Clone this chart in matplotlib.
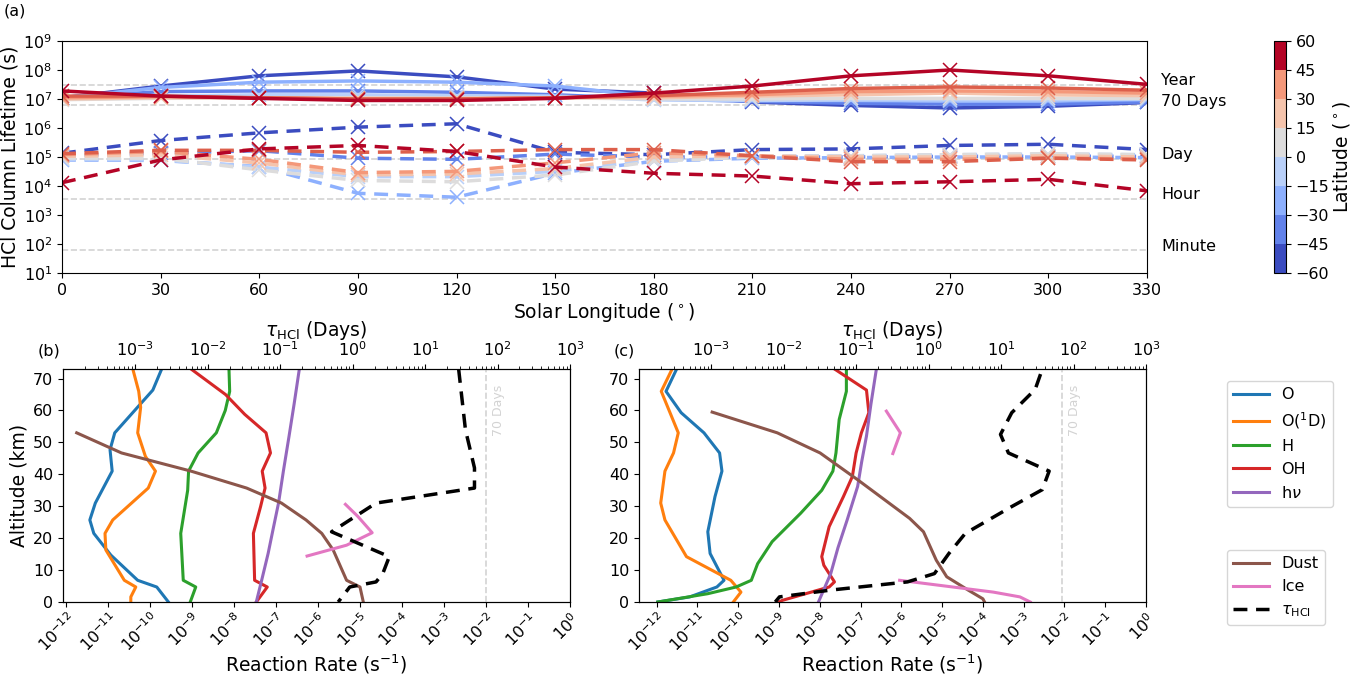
import numpy as np
import matplotlib
matplotlib.use("Agg")
import matplotlib.pyplot as plt
from matplotlib.colors import ListedColormap, BoundaryNorm
from matplotlib.cm import ScalarMappable

# ---------------- Panel (a) data ----------------
solar_longitude = [0, 30, 60, 90, 120, 150, 180, 210, 240, 270, 300, 330]
latitudes = [-60, -45, -30, -15, 0, 15, 30, 45, 60]

# solid lines (column lifetime, s)
life_solid_m60 = [1.1e7, 2.8e7, 6.3e7, 9.3e7, 5.8e7, 2.2e7, 1.6e7, 7.9e6, 6.0e6, 4.9e6, 5.6e6, 7.6e6]
life_solid_m45 = [1.1e7, 1.8e7, 1.9e7, 1.9e7, 1.7e7, 1.4e7, 1.0e7, 8.3e6, 7.1e6, 6.6e6, 6.6e6, 7.9e6]
life_solid_m30 = [1.1e7, 2.5e7, 3.8e7, 4.2e7, 3.8e7, 2.8e7, 1.2e7, 8.9e6, 8.9e6, 8.5e6, 8.5e6, 9.5e6]
life_solid_m15 = [1.0e7, 1.26e7, 1.4e7, 1.4e7, 1.3e7, 1.26e7, 9.3e6, 8.9e6, 9.3e6, 9.3e6, 9.3e6, 1.0e7]
life_solid_0 = [9.5e6, 1.05e7, 1.1e7, 1.1e7, 1.07e7, 1.1e7, 1.0e7, 1.0e7, 1.05e7, 1.05e7, 1.05e7, 1.05e7]
life_solid_p15 = [1.0e7, 1.1e7, 1.1e7, 1.05e7, 1.05e7, 1.1e7, 1.1e7, 1.26e7, 1.4e7, 1.6e7, 1.4e7, 1.3e7]
life_solid_p30 = [1.1e7, 1.2e7, 1.1e7, 1.0e7, 1.0e7, 1.1e7, 1.26e7, 1.4e7, 1.8e7, 1.9e7, 1.8e7, 1.6e7]
life_solid_p45 = [1.26e7, 1.26e7, 1.1e7, 1.0e7, 1.0e7, 1.1e7, 1.3e7, 1.7e7, 2.3e7, 2.6e7, 2.4e7, 2.0e7]
life_solid_p60 = [1.9e7, 1.26e7, 1.05e7, 8.9e6, 8.9e6, 1.05e7, 1.6e7, 2.8e7, 6.3e7, 1.0e8, 6.3e7, 3.2e7]

# dashed lines
life_dash_m60 = [1.35e5, 3.7e5, 6.8e5, 1.07e6, 1.4e6, 1.45e5, 1.2e5, 1.8e5, 1.9e5, 2.5e5, 2.75e5, 1.8e5]
life_dash_m45 = [1.1e5, 1.35e5, 1.65e5, 9.1e4, 8.3e4, 1.26e5, 1.0e5, 1.0e5, 1.0e5, 1.05e5, 1.07e5, 1.05e5]
life_dash_m30 = [7.9e4, 7.6e4, 4.7e4, 5.6e3, 4.1e3, 2.75e4, 7.1e4, 9.1e4, 9.5e4, 1.0e5, 1.0e5, 9.5e4]
life_dash_m15 = [8.3e4, 7.9e4, 4.5e4, 2.1e4, 2.1e4, 3.2e4, 7.9e4, 1.05e5, 1.1e5, 1.2e5, 1.26e5, 1.2e5]
life_dash_0 = [9.1e4, 9.1e4, 3.6e4, 1.55e4, 1.4e4, 2.4e4, 7.1e4, 1.0e5, 1.1e5, 1.2e5, 1.3e5, 1.2e5]
life_dash_p15 = [1.05e5, 1.2e5, 6.2e4, 2.4e4, 2.6e4, 4.0e4, 1.0e5, 1.1e5, 1.0e5, 1.0e5, 1.1e5, 1.0e5]
life_dash_p30 = [1.2e5, 1.55e5, 8.3e4, 2.9e4, 3.2e4, 6.3e4, 1.4e5, 1.1e5, 8.3e4, 8.3e4, 9.3e4, 8.5e4]
life_dash_p45 = [1.3e5, 1.7e5, 1.7e5, 1.45e5, 1.55e5, 1.8e5, 1.8e5, 1.1e5, 6.9e4, 6.9e4, 9.1e4, 7.9e4]
life_dash_p60 = [1.3e4, 7.9e4, 1.9e5, 2.5e5, 1.55e5, 4.5e4, 2.75e4, 2.2e4, 1.2e4, 1.4e4, 1.7e4, 6.8e3]

solid_series = [life_solid_m60, life_solid_m45, life_solid_m30, life_solid_m15, life_solid_0,
                life_solid_p15, life_solid_p30, life_solid_p45, life_solid_p60]
dash_series = [life_dash_m60, life_dash_m45, life_dash_m30, life_dash_m15, life_dash_0,
               life_dash_p15, life_dash_p30, life_dash_p45, life_dash_p60]

ref_names = ["Year", "70 Days", "Day", "Hour", "Minute"]
ref_seconds = [3.1536e7, 6.048e6, 86400, 3600, 60]

# ---------------- Panel (b) data ----------------
b_O_alt = [73, 66.4, 53, 47.7, 41, 31, 25.7, 21.5, 14.7, 6.8, 4.7, 0]
b_O_rate = [1.9e-10, 1.17e-10, 1.45e-11, 1.12e-11, 1.26e-11, 5.0e-12, 3.7e-12, 4.6e-12, 1.17e-11, 5.1e-11, 1.45e-10, 2.75e-10]
b_O1D_alt = [73, 66, 61, 53, 45.6, 41, 35.7, 25.7, 21.5, 16.3, 6.8, 4.7, 1.6, 0]
b_O1D_rate = [3.9e-11, 5.4e-11, 6.0e-11, 5.1e-11, 7.8e-11, 1.35e-10, 9.1e-11, 1.3e-11, 8.5e-12, 8.9e-12, 2.45e-11, 4.6e-11, 3.5e-11, 3.5e-11]
b_H_alt = [73, 66, 60, 53, 46.7, 41, 35, 21.5, 6.8, 4.7, 0]
b_H_rate = [7.6e-9, 7.9e-9, 6.2e-9, 3.8e-9, 1.4e-9, 8.3e-10, 7.9e-10, 5.4e-10, 6.2e-10, 1.23e-9, 9.1e-10]
b_OH_alt = [73, 65, 58.8, 53, 46.7, 41, 35.7, 29.9, 21.5, 6.8, 4.7, 0]
b_OH_rate = [9.5e-10, 6.3e-9, 1.8e-8, 5.8e-8, 7.4e-8, 4.7e-8, 5.5e-8, 4.3e-8, 2.9e-8, 3.1e-8, 6.2e-8, 3.4e-8]
b_hv_alt = [73, 62, 52, 41, 31, 23, 15.2, 7, 0]
b_hv_rate = [3.6e-7, 2.7e-7, 2.05e-7, 1.5e-7, 1.15e-7, 8.6e-8, 6.5e-8, 4.6e-8, 3.4e-8]
b_dust_alt = [53, 46.7, 41, 35.7, 31, 25.7, 21.5, 16.3, 6.8, 4.7, 0]
b_dust_rate = [1.8e-12, 2.1e-11, 9.5e-10, 2.0e-8, 1.35e-7, 5.2e-7, 1.23e-6, 2.3e-6, 4.8e-6, 1.0e-5, 1.2e-5]
b_ice_alt = [30.6, 26.8, 21.7, 17.8, 14.4]
b_ice_rate = [4.5e-6, 8.9e-6, 1.95e-5, 4.8e-6, 5.5e-7]
b_tau_alt = [73, 54, 42, 35.7, 31, 22, 14.2, 8.9, 6.3, 4.7, 0]
b_tau_days = [29, 36, 48, 48, 2.1, 0.51, 3.2, 2.6, 2.1, 0.91, 0.63]

# ---------------- Panel (c) data ----------------
c_O_alt = [73, 66, 59.3, 53, 46.7, 41, 33, 22, 15.2, 6.8, 4.7, 1.6, 0]
c_O_rate = [3.1e-12, 1.7e-12, 4.0e-12, 1.45e-11, 3.5e-11, 4.0e-11, 2.7e-11, 1.8e-11, 2.05e-11, 4.5e-11, 3.0e-11, 6.5e-12, 1.07e-12]
c_O1D_alt = [73, 66, 53, 46.7, 41, 31, 25.7, 14.2, 6.8, 3.1, 0]
c_O1D_rate = [2.4e-12, 1.3e-12, 3.4e-12, 2.6e-12, 1.6e-12, 1.26e-12, 1.6e-12, 5.4e-12, 6.6e-11, 1.17e-10, 7.6e-11]
c_H_alt = [73, 66, 57.2, 46.7, 41, 35, 27.8, 18.9, 12, 6.8, 4.7, 2.6, 0]
c_H_rate = [4.5e-8, 4.5e-8, 3.0e-8, 2.5e-8, 2.1e-8, 1.12e-8, 3.4e-9, 6.8e-10, 3.0e-10, 2.1e-10, 8.9e-11, 1.8e-11, 1.07e-12]
c_OH_alt = [73, 66.4, 59.3, 53, 46.7, 39.3, 33, 23.6, 14.2, 11.5, 6.3, 4.7, 0.5, 0]
c_OH_rate = [2.3e-8, 1.4e-7, 1.6e-7, 1.05e-7, 7.8e-8, 6.3e-8, 3.8e-8, 1.7e-8, 1.12e-8, 1.26e-8, 2.3e-8, 1.7e-8, 1.2e-9, 1.0e-9]
c_hv_alt = [73, 62, 52, 44, 36.2, 25.7, 17, 8.9, 0]
c_hv_rate = [2.45e-7, 1.8e-7, 1.4e-7, 1.07e-7, 8.5e-8, 4.7e-8, 2.8e-8, 1.86e-8, 9.3e-9]
c_dust_alt = [59.5, 53, 46.7, 38.3, 26.2, 22, 13.1, 7.9, 3.7, 1, 0]
c_dust_rate = [2.3e-11, 9.1e-10, 1.02e-8, 8.5e-8, 1.6e-6, 3.5e-6, 7.2e-6, 1.3e-5, 4.4e-5, 1.0e-4, 1.1e-4]
c_ice_up_alt = [59.8, 53, 46.5]
c_ice_up_rate = [4.3e-7, 9.5e-7, 6.2e-7]
c_ice_lo_alt = [6.8, 3.1, 1.6, 0]
c_ice_lo_rate = [9.1e-7, 1.8e-4, 8.1e-4, 1.45e-3]
c_tau_alt = [71.4, 66.6, 59.3, 52.5, 46.7, 41, 35.2, 29.9, 21.5, 15.2, 8.9, 6.3, 3.7, 1.6, 0]
c_tau_days = [35, 29.5, 14, 9.8, 12.6, 46, 37, 14, 3.2, 1.9, 1.2, 0.51, 0.043, 0.0087, 0.0076]

species_labels = ["O", "O($^1$D)", "H", "OH", "h$\\nu$", "Dust", "Ice", "$\\tau_{\\rm HCl}$"]
species_colors = ["tab:blue", "tab:orange", "tab:green", "tab:red", "tab:purple", "tab:brown", "tab:pink", "black"]

# ---------------- Figure ----------------
W, H = 1369, 679
fig = plt.figure(figsize=(W / 100, H / 100), dpi=100)

def frac(l, t, r, b):
    return [l / W, 1 - b / H, (r - l) / W, (b - t) / H]

TICK = 11.5
LAB = 13.5

# ---- panel (a)
ax = fig.add_axes(frac(62, 41, 1147, 273))
colors9 = plt.get_cmap("coolwarm")(np.linspace(0, 1, 9))
for val in ref_seconds:
    ax.axhline(val, color="lightgrey", ls="--", lw=1.2, zorder=0)
for name, val in zip(ref_names, ref_seconds):
    ax.text(1.013, val * 10 ** -0.12, name, transform=ax.get_yaxis_transform(),
            fontsize=TICK, va="bottom", ha="left")
for i in range(len(latitudes)):
    ax.plot(solar_longitude, solid_series[i], color=colors9[i], lw=2.5, marker="x",
            ms=10, mew=1.1)
for i in range(len(latitudes)):
    ax.plot(solar_longitude, dash_series[i], color=colors9[i], lw=2.5, ls="--",
            dashes=(4, 2.5), marker="x", ms=10, mew=1.1)
ax.set_yscale("log")
ax.set_ylim(10, 1e9)
ax.set_xlim(0, 330)
ax.set_xticks(solar_longitude)
ax.set_yticks([10.0 ** k for k in range(1, 10)])
ax.tick_params(labelsize=TICK)
ax.set_xlabel("Solar Longitude ($^\\circ$)", fontsize=LAB, labelpad=2)
ax.set_ylabel("HCl Column Lifetime (s)", fontsize=LAB, labelpad=3)

cax = fig.add_axes(frac(1274, 41, 1286, 273))
bounds = [-60, -45, -30, -15, 0, 15, 30, 45, 60]
sm = ScalarMappable(norm=BoundaryNorm(bounds, 9), cmap=ListedColormap(colors9))
cb = fig.colorbar(sm, cax=cax, ticks=bounds)
cb.ax.tick_params(labelsize=TICK)
cb.set_label("Latitude ($^\\circ$)", fontsize=LAB, labelpad=1)

fig.text(4 / W, 1 - 4 / H, "(a)", fontsize=TICK, va="top", ha="left")

# ---- panels (b) and (c)
def rate_panel(box, xmin, data):
    axp = fig.add_axes(box)
    handles = []
    for (alt, rate), col, lab in zip(data[:5], species_colors[:5], species_labels[:5]):
        h, = axp.plot(rate, alt, color=col, lw=2.2, label=lab)
        handles.append(h)
    h, = axp.plot(data[5][1], data[5][0], color=species_colors[5], lw=2.2, label=species_labels[5])
    handles.append(h)
    for seg in data[6]:
        h, = axp.plot(seg[1], seg[0], color=species_colors[6], lw=2.2, label=species_labels[6])
    handles.append(h)
    axp.set_xscale("log")
    axp.set_xlim(xmin, 1)
    axp.set_ylim(0, 73)
    axp.set_xticks([10.0 ** k for k in range(-12, 1)])
    axp.set_yticks(range(0, 71, 10))
    axp.tick_params(labelsize=TICK)
    axp.tick_params(axis="x", pad=2)
    for t in axp.get_xticklabels():
        t.set_rotation(45)
        t.set_ha("right")
        t.set_rotation_mode("anchor")
    axp.set_xlabel("Reaction Rate (s$^{-1}$)", fontsize=LAB)
    axp.xaxis.set_label_coords(0.5, -0.215)
    axt = axp.twiny()
    axt.set_xscale("log")
    axt.set_xlim(1e-4, 1e3)
    axt.set_xticks([10.0 ** k for k in range(-3, 4)])
    axt.tick_params(labelsize=TICK)
    axt.axvline(70, color="lightgrey", ls="--", lw=1.2)
    axt.text(70 * 1.45, 60, "70 Days", rotation=90, color="lightgrey", fontsize=9,
             ha="center", va="center")
    h, = axt.plot(data[7][1], data[7][0], color="black", lw=2.5, ls="--", dashes=(4, 2.5),
                  label=species_labels[7])
    handles.append(h)
    axt.set_xlabel("$\\tau_{\\rm HCl}$ (Days)", fontsize=LAB, labelpad=3)
    axt.set_ylim(0, 73)
    return axp, handles

data_b = [(b_O_alt, b_O_rate), (b_O1D_alt, b_O1D_rate), (b_H_alt, b_H_rate),
          (b_OH_alt, b_OH_rate), (b_hv_alt, b_hv_rate), (b_dust_alt, b_dust_rate),
          [(b_ice_alt, b_ice_rate)], (b_tau_alt, b_tau_days)]
data_c = [(c_O_alt, c_O_rate), (c_O1D_alt, c_O1D_rate), (c_H_alt, c_H_rate),
          (c_OH_alt, c_OH_rate), (c_hv_alt, c_hv_rate), (c_dust_alt, c_dust_rate),
          [(c_ice_up_alt, c_ice_up_rate), (c_ice_lo_alt, c_ice_lo_rate)], (c_tau_alt, c_tau_days)]

axb, handles = rate_panel(frac(63, 369, 570, 602), 8.5e-13, data_b)
axb.set_ylabel("Altitude (km)", fontsize=LAB, labelpad=3)
axc, _ = rate_panel(frac(639, 369, 1146, 602), 3.7e-13, data_c)

fig.text(38 / W, 1 - 344 / H, "(b)", fontsize=TICK, va="top", ha="left")
fig.text(614 / W, 1 - 344 / H, "(c)", fontsize=TICK, va="top", ha="left")

leg1 = fig.legend(handles[:5], species_labels[:5], loc="upper left",
                  bbox_to_anchor=(1227 / W, 1 - 381 / H), fontsize=TICK,
                  handlelength=2.2, borderaxespad=0)
leg2 = fig.legend(handles[5:], species_labels[5:], loc="upper left",
                  bbox_to_anchor=(1227 / W, 1 - 550 / H), fontsize=TICK,
                  handlelength=2.2, borderaxespad=0)

fig.savefig("out.png", dpi=100)
